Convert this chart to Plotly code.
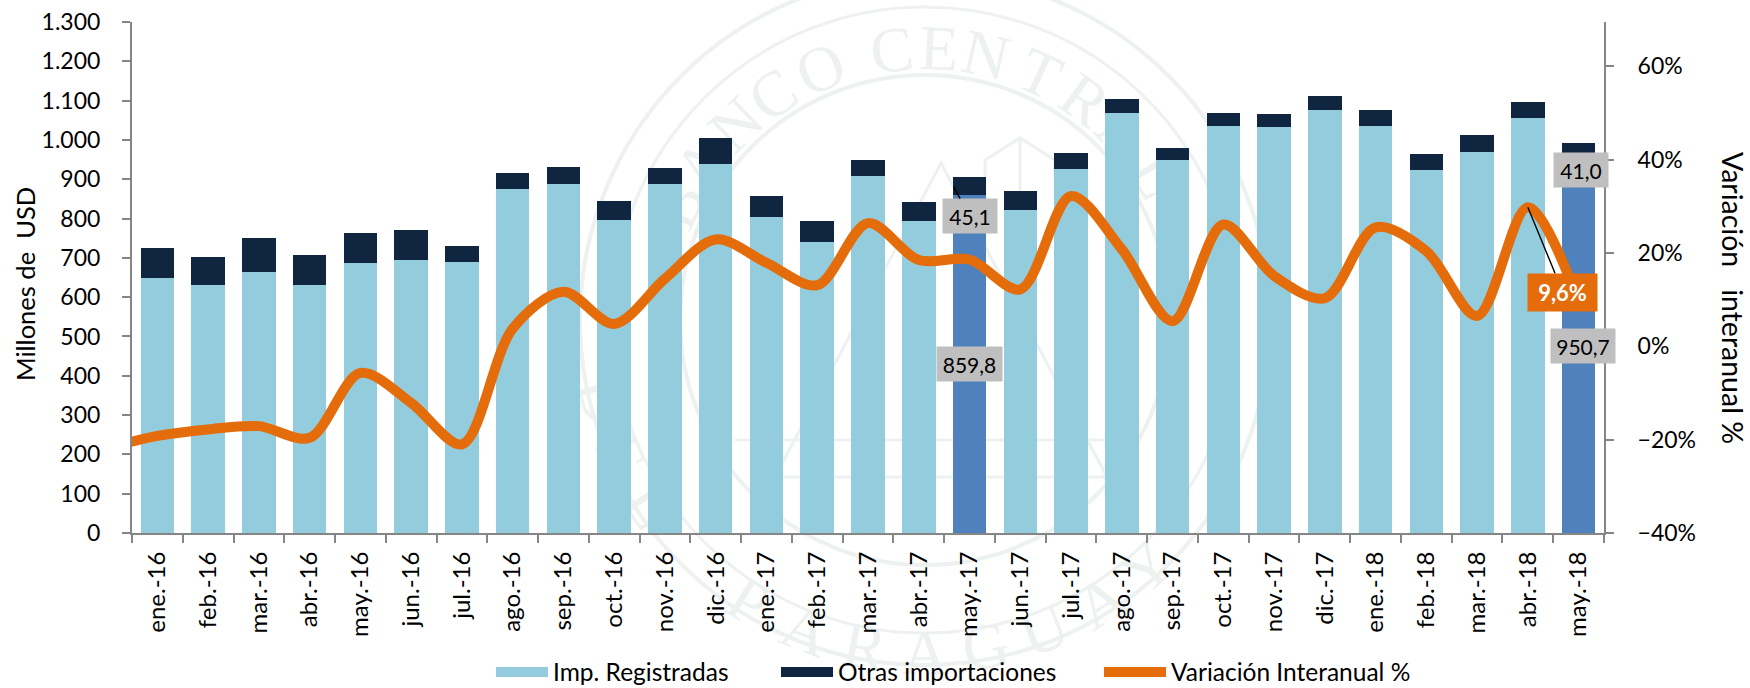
import math
import plotly.graph_objects as go

FONT = "Lato"
months = ["ene.-16","feb.-16","mar.-16","abr.-16","may.-16","jun.-16","jul.-16","ago.-16","sep.-16","oct.-16","nov.-16","dic.-16",
          "ene.-17","feb.-17","mar.-17","abr.-17","may.-17","jun.-17","jul.-17","ago.-17","sep.-17","oct.-17","nov.-17","dic.-17",
          "ene.-18","feb.-18","mar.-18","abr.-18","may.-18"]
registradas = [650,630,664,632,686,695,690,874,889,797,888,938,804,741,908,793,859.8,823,927,1069,950,1036,1033,1075,1035,923,970,1055,950.7]
otras = [76,73,87,74,77,77,41,41,41,48,41,66,54,53,41,48,45.1,46,41,34,30,33,33,36,40,40,42,41,41.0]
variacion = [-19.2,-17.8,-17.1,-19.6,-5.7,-12.1,-21.0,3.8,11.7,4.8,14.5,22.9,17.9,13.1,26.4,18.5,18.6,12.2,32.2,20.8,5.4,26.1,15.1,10.3,25.5,20.4,6.5,29.8,9.6]
variacion_dic15 = -21.8
highlight = {"may.-17", "may.-18"}

BLUE, HIGH, NAVY, ORANGE, AXIS, LABEL = "#93CDDD", "#4F81BD", "#10253F", "#E46C0A", "#868686", "#BFBFBF"
PL, PR, PT, PB = 132, 1604, 22, 533

def xp(x): return (x - PL) / (PR - PL)
def yp(y): return (PB - y) / (PB - PT)

# faint seal behind the chart
WM = "#EDF1F0"
CX, CY = 925, 320
shapes = []
for r, w in [(345, 4), (313, 3), (245, 4)]:
    shapes.append(dict(type="circle", xref="paper", yref="paper", layer="below",
                       x0=xp(CX-r), x1=xp(CX+r), y0=yp(CY+r), y1=yp(CY-r), line=dict(color=WM, width=w)))
def wm_path(points, w=3):
    d = "M" + "L".join(f"{xp(a):.4f},{yp(b):.4f}" for a, b in points)
    shapes.append(dict(type="path", xref="paper", yref="paper", layer="below", path=d, line=dict(color=WM, width=w)))
wm_path([(775,477),(941,163),(1107,477),(775,477)])
wm_path([(735,440),(1115,440)])
wm_path([(985,200),(985,160),(1020,138),(1055,160),(1055,200)])
wm_path([(1020,138),(1020,400)])
def letter(ch, x, y, ang):
    s = 40
    shapes.append(dict(type="rect", xref="paper", yref="paper", layer="below",
                       x0=xp(x-s), x1=xp(x+s), y0=yp(y+s), y1=yp(y-s), line=dict(width=0),
                       label=dict(text=ch, textangle=ang, textposition="middle center", padding=0,
                                  font=dict(family="Liberation Serif", size=64, color=WM))))
for ch, th in zip("BANCOCENTRAL", [-65,-55,-44,-34,-22.6,-7,3,13,25,36,47,58]):
    a = math.radians(th)
    letter(ch, CX+279*math.sin(a), CY-279*math.cos(a), th)
for ch, ph in zip("DELPARAGUAY", [-76,-66,-56,-32,-21,-10.5,0,10.5,21,32,42]):
    a = math.radians(ph)
    letter(ch, CX+325*math.sin(a), CY+325*math.cos(a), -ph)

fig = go.Figure()
fig.add_bar(x=months, y=registradas, name="Imp. Registradas", showlegend=False, legendgroup="a",
            marker=dict(color=[HIGH if m in highlight else BLUE for m in months], line_width=0))
fig.add_bar(x=months, y=otras, name="Otras importaciones", showlegend=False, legendgroup="b",
            marker=dict(color=NAVY, line_width=0))
fig.add_scatter(x=[None], y=[None], mode="lines", name="Imp. Registradas", legendgroup="a", legend="legend", line=dict(color=BLUE, width=15))
fig.add_scatter(x=[None], y=[None], mode="lines", name="Otras importaciones", legendgroup="b", legend="legend2", line=dict(color=NAVY, width=15))
fig.add_scatter(x=list(range(-1, len(months))), y=[variacion_dic15] + variacion, mode="lines", xaxis="x2", yaxis="y2",
                legend="legend3", name="Variación Interanual %", line=dict(color=ORANGE, width=10, shape="spline", smoothing=0.9))

def box(text, x, y, w, h=34, xref="x", yref="y", **kw):
    base = dict(text=text, x=x, y=y, xref=xref, yref=yref, showarrow=False, width=w, height=h, bgcolor=LABEL,
                font=dict(family=FONT, size=21, color="black"), align="center", valign="middle", borderpad=0)
    base.update(kw)
    return base

annotations = [
    box("859,8", "may.-17", 429.9, 65),
    box("950,7", "may.-18", 475.3, 64, xshift=4),
    box("41,0", "may.-18", 923, 54, xshift=2),
    box("45,1", 15.69, 880, 54, xref="x2", showarrow=True, arrowhead=0, arrowwidth=1.4, arrowcolor="black",
        ax=16, ay=29, axref="pixel", ayref="pixel"),
    box("<b>9,6%</b>", 27, 29.8, 69, 37, xref="x2", yref="y2", bgcolor=ORANGE,
        font=dict(family=FONT, size=22, color="white"), showarrow=True, arrowhead=0, arrowwidth=1.4, arrowcolor="black",
        ax=35, ay=85, axref="pixel", ayref="pixel"),
    dict(text="Millones de  USD", xref="paper", yref="paper", x=xp(25), y=yp(284), xanchor="center", yanchor="middle",
         showarrow=False, textangle=-90, font=dict(family=FONT, size=25.5, color="black")),
    dict(text="Variación\u00A0\u00A0\u00A0interanual %", xref="paper", yref="paper", x=xp(1733), y=yp(298), xanchor="center", yanchor="middle",
         showarrow=False, textangle=90, font=dict(family=FONT, size=28.5, color="black")),
]

tickfont = dict(family=FONT, size=23, color="black")
axis = dict(showline=True, linecolor=AXIS, linewidth=2, ticks="outside", ticklen=8, tickcolor=AXIS, tickwidth=2,
            showgrid=False, zeroline=False, tickfont=tickfont, automargin=False)
legfont = dict(family=FONT, size=24.5, color="black")
def leg(px, w):
    return dict(orientation="h", x=xp(px-6), xanchor="left", y=yp(672), yanchor="middle", itemwidth=w,
                font=legfont, bgcolor="rgba(0,0,0,0)")
fig.update_layout(
    template="none",
    width=1750, height=688, margin=dict(l=PL, r=1750-PR, t=PT, b=688-PB, pad=0, autoexpand=False),
    paper_bgcolor="white", plot_bgcolor="rgba(0,0,0,0)", barmode="stack", bargap=0.34,
    separators=",.", shapes=shapes, annotations=annotations,
    xaxis=dict(axis, type="category", categoryorder="array", categoryarray=months, range=[-0.5, 28.5],
               tickson="boundaries", tickangle=-90, ticklabelstandoff=7, tickmode="array", tickvals=months,
               tickfont=dict(family=FONT, size=24, color="black")),
    xaxis2=dict(overlaying="x", range=[-0.5, 28.5], visible=False, anchor="y2"),
    yaxis=dict(axis, range=[0, 1300], dtick=100, tickformat=",d", ticklabelstandoff=17),
    yaxis2=dict(axis, overlaying="y", side="right", anchor="x2", range=[-40, 69.5], tick0=-40, dtick=20, ticksuffix="%", ticklabelstandoff=19),
    showlegend=True,
    legend=leg(497, 52), legend2=leg(782, 52), legend3=leg(1105, 62),
)
fig.write_html("out.html", config={"displayModeBar": False}, post_script="document.body.style.margin='0';")
